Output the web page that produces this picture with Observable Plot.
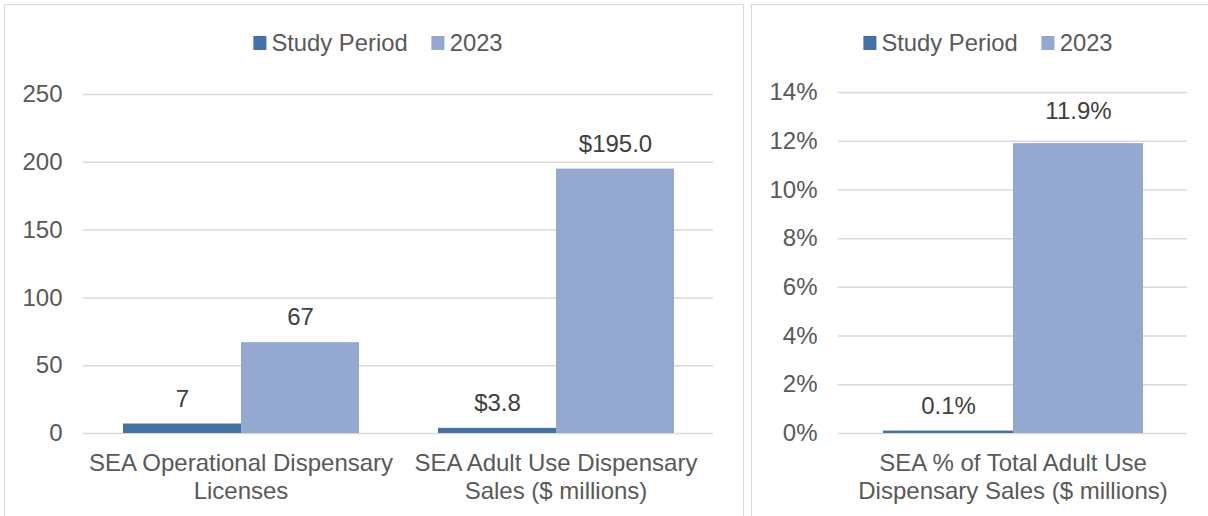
<!DOCTYPE html>
<html>
<head>
<meta charset="utf-8">
<script src="https://cdn.jsdelivr.net/npm/d3@7"></script>
<script src="https://cdn.jsdelivr.net/npm/@observablehq/plot@0.6"></script>
<style>
  html, body { margin: 0; padding: 0; background: #fff; }
  #root { position: relative; width: 1208px; height: 516px; overflow: hidden; font-family: "Liberation Sans", Arial, sans-serif; color: #595959; }
  .panel { position: absolute; border: 1.5px solid #d9d9d9; box-sizing: border-box; }
  .legend { position: absolute; top: 30px; display: flex; align-items: center; font-size: 23.8px; line-height: 26px; white-space: nowrap; transform: translateX(-50%); }
  .legend .sw { display: inline-block; width: 13px; height: 14px; margin-right: 5px; }
  .legend .item { display: flex; align-items: center; margin-right: 24px; }
  .legend .item:last-child { margin-right: 0; }
  .chart { position: absolute; top: 0; }
</style>
</head>
<body>
<div id="root">
  <div class="panel" style="left:4px;top:4px;width:740px;height:600px;"></div>
  <div class="panel" style="left:751px;top:4px;width:500px;height:600px;"></div>
  <div class="legend" id="legendLeft" style="left:378px;"></div>
  <div class="legend" id="legendRight" style="left:988px;"></div>
  <div class="chart" id="left" style="left:0px;"></div>
  <div class="chart" id="right" style="left:745px;"></div>
</div>
<script>
// ---- data ----
const series = ["Study Period", "2023"];
const seriesColors = ["#4472a8", "#95a9d0"];

const categoriesLeft = ["SEA Operational Dispensary\nLicenses", "SEA Adult Use Dispensary\nSales ($ millions)"];
const studyLeft = [7, 3.8];
const y2023Left = [67, 195.0];
const leftTicks = [0, 50, 100, 150, 200, 250];

const categoriesRight = ["SEA % of Total Adult Use\nDispensary Sales ($ millions)"];
const studyRight = [0.1];
const y2023Right = [11.9];
const rightTicks = [0, 2, 4, 6, 8, 10, 12, 14];

// label formats per left category
const leftFormats = [d => d3.format("d")(d), d => "$" + d3.format(".1f")(d)];
const rightFormat = d => d3.format(".1f")(d) + "%";

// ---- build rows ----
const leftRows = [];
categoriesLeft.forEach((c, i) => {
  leftRows.push({category: c, series: series[0], value: studyLeft[i], label: leftFormats[i](studyLeft[i])});
  leftRows.push({category: c, series: series[1], value: y2023Left[i], label: leftFormats[i](y2023Left[i])});
});
const rightRows = [];
categoriesRight.forEach((c, i) => {
  rightRows.push({category: c, series: series[0], value: studyRight[i], label: rightFormat(studyRight[i])});
  rightRows.push({category: c, series: series[1], value: y2023Right[i], label: rightFormat(y2023Right[i])});
});

// ---- legends ----
function legend(el) {
  series.forEach((s, i) => {
    const item = document.createElement("div");
    item.className = "item";
    const sw = document.createElement("span");
    sw.className = "sw";
    sw.style.background = seriesColors[i];
    const t = document.createElement("span");
    t.textContent = s;
    item.appendChild(sw);
    item.appendChild(t);
    el.appendChild(item);
  });
}
legend(document.getElementById("legendLeft"));
legend(document.getElementById("legendRight"));

const baseStyle = {fontSize: "24px", fontFamily: "'Liberation Sans', Arial, sans-serif", color: "#595959", background: "transparent", overflow: "visible"};

const left = Plot.plot({
  width: 745, height: 516,
  marginLeft: 83, marginRight: 32, marginTop: 94, marginBottom: 83,
  style: baseStyle,
  fx: {domain: categoriesLeft, padding: 0, label: null},
  x: {domain: series, paddingInner: 0, paddingOuter: 0.33, axis: null},
  y: {domain: [0, 250], axis: null},
  color: {domain: series, range: seriesColors},
  marks: [
    Plot.gridY(leftTicks, {stroke: "#d9d9d9", strokeOpacity: 1, strokeWidth: 1.5}),
    Plot.axisY(leftTicks, {tickSize: 0, tickPadding: 21, label: null, fill: "#595959"}),
    Plot.axisFx({anchor: "bottom", tickSize: 0, tickPadding: 18, label: null, lineHeight: 1.15, fill: "#595959"}),
    Plot.barY(leftRows, {fx: "category", x: "series", y: "value", fill: "series"}),
    Plot.text(leftRows, {fx: "category", x: "series", y: "value", text: "label", dy: -25, fill: "#404040"})
  ]
});
document.getElementById("left").appendChild(left);

const right = Plot.plot({
  width: 463, height: 516,
  marginLeft: 93, marginRight: 21, marginTop: 92, marginBottom: 83,
  style: baseStyle,
  fx: {domain: categoriesRight, padding: 0, label: null},
  x: {domain: series, paddingInner: 0, paddingOuter: 0.337, axis: null},
  y: {domain: [0, 14], axis: null},
  color: {domain: series, range: seriesColors},
  marks: [
    Plot.gridY(rightTicks, {stroke: "#d9d9d9", strokeOpacity: 1, strokeWidth: 1.5}),
    Plot.axisY(rightTicks, {tickSize: 0, tickPadding: 21, label: null, tickFormat: d => d + "%", fill: "#595959"}),
    Plot.axisFx({anchor: "bottom", tickSize: 0, tickPadding: 18, label: null, lineHeight: 1.15, fill: "#595959"}),
    Plot.barY(rightRows, {fx: "category", x: "series", y: "value", fill: "series"}),
    Plot.text(rightRows.filter(d => d.series === series[0]), {fx: "category", x: "series", y: "value", text: "label", dy: -25, fill: "#404040"}),
    Plot.text(rightRows.filter(d => d.series === series[1]), {fx: "category", x: "series", y: "value", text: "label", dy: -32, fill: "#404040"})
  ]
});
document.getElementById("right").appendChild(right);
</script>
</body>
</html>
